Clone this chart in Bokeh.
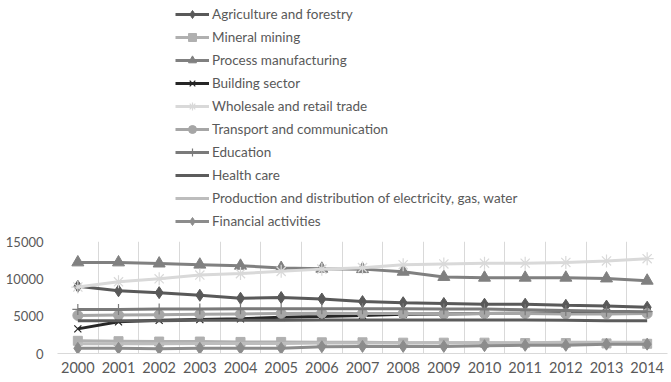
from bokeh.plotting import figure
from bokeh.models import Legend, LegendItem, FixedTicker, Grid, Range1d, ColumnDataSource
from bokeh.layouts import column
from bokeh.embed import file_html
from bokeh.resources import INLINE

years = ["2000", "2001", "2002", "2003", "2004", "2005", "2006", "2007",
         "2008", "2009", "2010", "2011", "2012", "2013", "2014"]

agriculture = [9000, 8400, 8150, 7800, 7400, 7500, 7300, 6950, 6800, 6700, 6600, 6600, 6450, 6350, 6200]
mineral = [1700, 1650, 1600, 1600, 1550, 1550, 1500, 1500, 1450, 1450, 1450, 1400, 1400, 1350, 1300]
process = [12200, 12200, 12050, 11900, 11750, 11450, 11350, 11300, 10950, 10250, 10150, 10150, 10150, 10050, 9750]
building = [3300, 4250, 4450, 4550, 4650, 4850, 4950, 5100, 5250, 5300, 5350, 5400, 5450, 5450, 5500]
wholesale = [8900, 9600, 10000, 10500, 10700, 11000, 11300, 11500, 11900, 12000, 12100, 12100, 12200, 12400, 12700]
transport = [5100, 5150, 5200, 5250, 5300, 5350, 5400, 5350, 5350, 5300, 5350, 5350, 5300, 5300, 5350]
education = [5900, 5900, 5950, 5950, 6000, 6000, 6000, 6000, 6000, 5950, 5950, 5850, 5750, 5650, 5600]
health = [4400, 4400, 4400, 4450, 4450, 4450, 4500, 4500, 4500, 4500, 4500, 4500, 4450, 4400, 4400]
electricity = [1300, 1300, 1300, 1350, 1350, 1350, 1400, 1400, 1400, 1450, 1450, 1450, 1500, 1500, 1500]
financial = [700, 700, 650, 700, 700, 700, 900, 950, 950, 950, 1050, 1100, 1100, 1250, 1250]

y_ticks = [0, 5000, 10000, 15000]

series = [
    ("Agriculture and forestry", agriculture, "#595959", "diamond", 12),
    ("Mineral mining", mineral, "#b0b0b0", "square", 9),
    ("Process manufacturing", process, "#808080", "triangle", 12),
    ("Building sector", building, "#262626", "x", 10),
    ("Wholesale and retail trade", wholesale, "#d9d9d9", "asterisk", 13),
    ("Transport and communication", transport, "#a6a6a6", "circle", 10),
    ("Education", education, "#7a7a7a", "cross", 11),
    ("Health care", health, "#5c5c5c", None, 0),
    ("Production and distribution of electricity, gas, water", electricity, "#bdbdbd", None, 0),
    ("Financial activities", financial, "#8c8c8c", "diamond", 12),
]

FONT = "Lato"
TEXT = "#595959"
xs = list(range(len(years)))


def add_series(fig, vals, color, marker, size):
    src = ColumnDataSource(dict(x=xs, y=vals))
    r_line = fig.line("x", "y", source=src, line_color=color, line_width=3)
    rends = [r_line]
    if marker is not None:
        if marker in ("x", "asterisk", "cross"):
            r_m = fig.scatter("x", "y", source=src, marker=marker, size=size,
                              line_color=color, line_width=1.2, fill_color=None)
        else:
            r_m = fig.scatter("x", "y", source=src, marker=marker, size=size,
                              line_color=color, fill_color=color)
        rends.append(r_m)
    return rends


# ---- legend figure (top) ----
lg = figure(width=671, height=235, output_backend="svg", toolbar_location=None,
            x_range=Range1d(-200, -199), y_range=Range1d(-200, -199),
            x_axis_location=None, y_axis_location=None,
            min_border=0)
lg.outline_line_color = None
lg.grid.visible = False
items = []
for name, vals, color, marker, size in series:
    items.append(LegendItem(label=name, renderers=add_series(lg, vals, color, marker, size)))
legend = Legend(items=items, location=(118, 4), orientation="vertical",
                glyph_width=34, glyph_height=20, label_height=20, spacing=3,
                label_standoff=3, padding=0, margin=0,
                border_line_color=None, background_fill_alpha=0,
                label_text_font=FONT, label_text_font_size="13.5px",
                label_text_color=TEXT)
lg.add_layout(legend)

# ---- main chart ----
p = figure(width=671, height=146, output_backend="svg", toolbar_location=None,
           x_range=Range1d(-0.5, len(years) - 0.5),
           y_range=Range1d(y_ticks[0], y_ticks[-1]),
           min_border_left=57, min_border_right=4, min_border_top=6, min_border_bottom=28)
p.outline_line_color = None
p.xgrid.visible = False
p.ygrid.visible = False

vgrid = Grid(dimension=0, ticker=FixedTicker(ticks=[i - 0.5 for i in range(len(years) + 1)]),
             grid_line_color="#d9d9d9", grid_line_width=1)
p.add_layout(vgrid)

for name, vals, color, marker, size in series:
    add_series(p, vals, color, marker, size)

xa = p.xaxis[0]
xa.ticker = FixedTicker(ticks=xs)
xa.major_label_overrides = {i: y for i, y in enumerate(years)}
xa.axis_line_color = "#d9d9d9"
xa.major_tick_line_color = None
xa.minor_tick_line_color = None
xa.major_tick_out = 0
xa.major_label_standoff = 8
xa.major_label_text_font = FONT
xa.major_label_text_font_size = "14.5px"
xa.major_label_text_color = TEXT

ya = p.yaxis[0]
ya.ticker = FixedTicker(ticks=y_ticks)
ya.axis_line_color = None
ya.major_tick_line_color = None
ya.minor_tick_line_color = None
ya.major_tick_out = 0
ya.major_label_standoff = 14
ya.major_label_text_font = FONT
ya.major_label_text_font_size = "13px"
ya.major_label_text_color = TEXT

layout = column(lg, p, spacing=0)
open("out.html", "w").write(file_html(layout, INLINE))
